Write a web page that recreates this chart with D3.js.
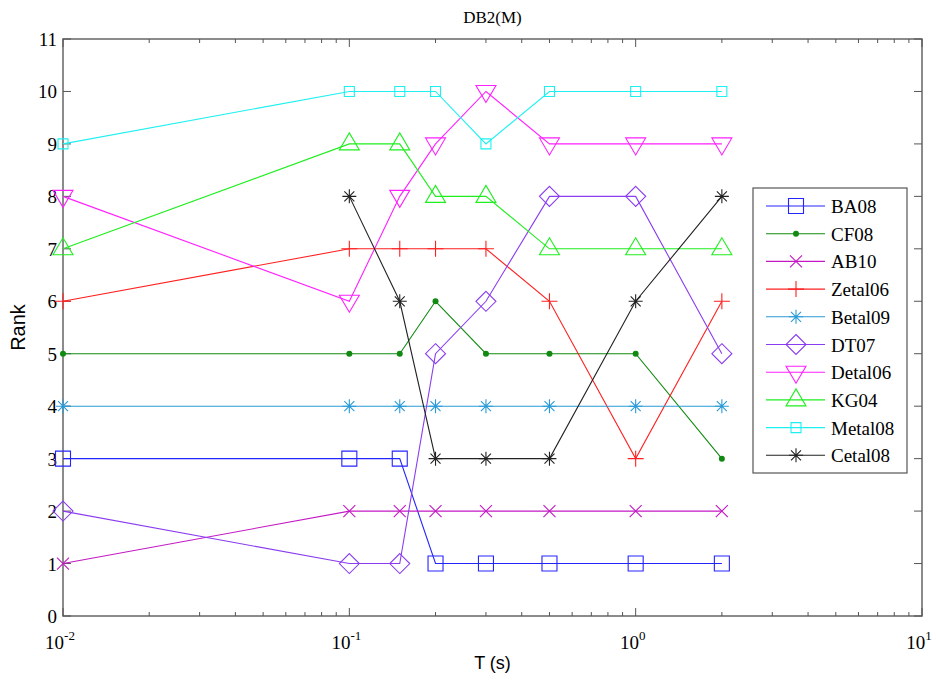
<!DOCTYPE html>
<html>
<head>
    <script src="https://d3js.org/d3.v7.min.js"></script>
    <style>
        body { margin: 0; background: #fff; }
        .tick-label { font-family: "Liberation Serif", "Times New Roman", serif; font-size: 19px; fill: #000; }
        .axis-title { font-family: "Liberation Sans", Arial, sans-serif; font-size: 18px; fill: #000; }
        .legend-label { font-family: "Liberation Serif", "Times New Roman", serif; font-size: 19px; fill: #000; }
    </style>
</head>
<body>
    <script>
        var periods = [0.01, 0.1, 0.15, 0.2, 0.3, 0.5, 1, 2];

        var seriesNames = ["BA08", "CF08", "AB10", "Zetal06", "Betal09", "DT07", "Detal06", "KG04", "Metal08", "Cetal08"];
        var BA08    = [3, 3, 3, 1, 1, 1, 1, 1];
        var CF08    = [5, 5, 5, 6, 5, 5, 5, 3];
        var AB10    = [1, 2, 2, 2, 2, 2, 2, 2];
        var Zetal06 = [6, 7, 7, 7, 7, 6, 3, 6];
        var Betal09 = [4, 4, 4, 4, 4, 4, 4, 4];
        var DT07    = [2, 1, 1, 5, 6, 8, 8, 5];
        var Detal06 = [8, 6, 8, 9, 10, 9, 9, 9];
        var KG04    = [7, 9, 9, 8, 8, 7, 7, 7];
        var Metal08 = [9, 10, 10, 10, 9, 10, 10, 10];
        var Cetal08 = [null, 8, 6, 3, 3, 3, 6, 8];

        var seriesColors = ["#2424ff", "#118a11", "#c418c4", "#ff2020", "#2a9ad6", "#8a3cf0", "#ff20ff", "#1fee1f", "#1ef0f0", "#222222"];
        var seriesMarkers = ["square", "dot", "x", "plus", "star", "diamond", "tridown", "triup", "smallsquare", "star"];

        var yTicks = d3.range(0, 12);
        var xMajor = [0.01, 0.1, 1, 10];
        var xExp = ["-2", "-1", "0", "1"];

        var width = 936, height = 680;
        var pLeft = 63, pRight = 922, pTop = 39, pBottom = 616;

        var x = d3.scaleLog().domain([0.01, 10]).range([pLeft, pRight]);
        var y = d3.scaleLinear().domain([0, 11]).range([pBottom, pTop]);

        var svg = d3.select("body").append("svg")
            .attr("width", width)
            .attr("height", height);

        // marker path by type, centred at 0,0
        function markerPath(type) {
            var p = d3.path();
            if (type == "square") { p.rect(-7.5, -7.5, 15, 15); }
            else if (type == "smallsquare") { p.rect(-5, -5, 10, 10); }
            else if (type == "diamond") {
                p.moveTo(0, -10); p.lineTo(10, 0); p.lineTo(0, 10); p.lineTo(-10, 0); p.closePath();
            }
            else if (type == "tridown") {
                p.moveTo(-10, -6); p.lineTo(10, -6); p.lineTo(0, 11); p.closePath();
            }
            else if (type == "triup") {
                p.moveTo(-10, 6); p.lineTo(10, 6); p.lineTo(0, -11); p.closePath();
            }
            else if (type == "x") {
                p.moveTo(-6, -6); p.lineTo(6, 6); p.moveTo(-6, 6); p.lineTo(6, -6);
            }
            else if (type == "plus") {
                p.moveTo(-8, 0); p.lineTo(8, 0); p.moveTo(0, -8); p.lineTo(0, 8);
            }
            else if (type == "star") {
                p.moveTo(-7, 0); p.lineTo(7, 0); p.moveTo(0, -7); p.lineTo(0, 7);
                p.moveTo(-5, -5); p.lineTo(5, 5); p.moveTo(-5, 5); p.lineTo(5, -5);
            }
            return p.toString();
        }

        function drawMarker(g, type, color) {
            if (type == "dot") {
                g.append("circle").attr("r", 3).attr("fill", color);
            } else {
                g.append("path").attr("d", markerPath(type))
                    .attr("fill", "none").attr("stroke", color).attr("stroke-width", 1.1);
            }
        }

        // axes box
        svg.append("rect")
            .attr("x", pLeft).attr("y", pTop)
            .attr("width", pRight - pLeft).attr("height", pBottom - pTop)
            .attr("fill", "none").attr("stroke", "#666").attr("stroke-width", 1.5);

        // y ticks both sides
        yTicks.forEach(function(t) {
            svg.append("line").attr("x1", pLeft).attr("x2", pLeft + 8)
                .attr("y1", y(t)).attr("y2", y(t)).attr("stroke", "#555");
            svg.append("line").attr("x1", pRight).attr("x2", pRight - 8)
                .attr("y1", y(t)).attr("y2", y(t)).attr("stroke", "#555");
            svg.append("text").attr("class", "tick-label")
                .attr("x", pLeft - 6).attr("y", y(t) + 7)
                .attr("text-anchor", "end").text(t);
        });

        // x ticks (major and minor) top and bottom
        var xAll = [];
        for (var e = -2; e < 1; e++) {
            for (var m = 1; m < 10; m++) xAll.push(m * Math.pow(10, e));
        }
        xAll.push(10);
        xAll.forEach(function(v) {
            var major = xMajor.some(function(mv) { return Math.abs(mv - v) < 1e-9; });
            var len = major ? 8 : 4;
            svg.append("line").attr("x1", x(v)).attr("x2", x(v))
                .attr("y1", pBottom).attr("y2", pBottom - len).attr("stroke", "#555");
            svg.append("line").attr("x1", x(v)).attr("x2", x(v))
                .attr("y1", pTop).attr("y2", pTop + len).attr("stroke", "#555");
        });
        xMajor.forEach(function(v, i) {
            var t = svg.append("text").attr("class", "tick-label")
                .attr("x", x(v) - 3).attr("y", pBottom + 33)
                .attr("text-anchor", "middle");
            t.append("tspan").text("10");
            t.append("tspan").attr("dy", -9).style("font-size", "13px").text(xExp[i]);
        });

        // titles
        svg.append("text").attr("class", "tick-label")
            .attr("x", (pLeft + pRight) / 2).attr("y", 23)
            .attr("text-anchor", "middle").style("font-size", "17px").text("DB2(M)");
        svg.append("text").attr("class", "axis-title")
            .attr("x", (pLeft + pRight) / 2).attr("y", 669)
            .attr("text-anchor", "middle").text("T (s)");
        svg.append("text").attr("class", "axis-title")
            .attr("transform", "translate(25," + ((pTop + pBottom) / 2) + ") rotate(-90)")
            .attr("text-anchor", "middle").style("font-size", "20px").text("Rank");

        var allSeries = [BA08, CF08, AB10, Zetal06, Betal09, DT07, Detal06, KG04, Metal08, Cetal08];

        var line = d3.line()
            .defined(function(d) { return d != null; })
            .x(function(d, i) { return x(periods[i]); })
            .y(function(d) { return y(d); });

        allSeries.forEach(function(vals, si) {
            var color = seriesColors[si];
            var g = svg.append("g");
            g.append("path").attr("d", line(vals))
                .attr("fill", "none").attr("stroke", color).attr("stroke-width", 1.1);
            vals.forEach(function(v, i) {
                if (v == null) return;
                var mg = g.append("g").attr("transform", "translate(" + x(periods[i]) + "," + y(v) + ")");
                drawMarker(mg, seriesMarkers[si], color);
            });
        });

        // legend
        var lg = svg.append("g");
        lg.append("rect").attr("x", 753).attr("y", 188).attr("width", 154).attr("height", 285)
            .attr("fill", "#fff").attr("stroke", "#555").attr("stroke-width", 1.2);
        seriesNames.forEach(function(name, i) {
            var ly = 206 + i * 27.7;
            var color = seriesColors[i];
            lg.append("line").attr("x1", 766).attr("x2", 825).attr("y1", ly).attr("y2", ly)
                .attr("stroke", color).attr("stroke-width", 1.1);
            var mg = lg.append("g").attr("transform", "translate(796," + ly + ")");
            drawMarker(mg, seriesMarkers[i], color);
            lg.append("text").attr("class", "legend-label")
                .attr("x", 831).attr("y", ly + 7).text(name);
        });
    </script>
</body>
</html>
